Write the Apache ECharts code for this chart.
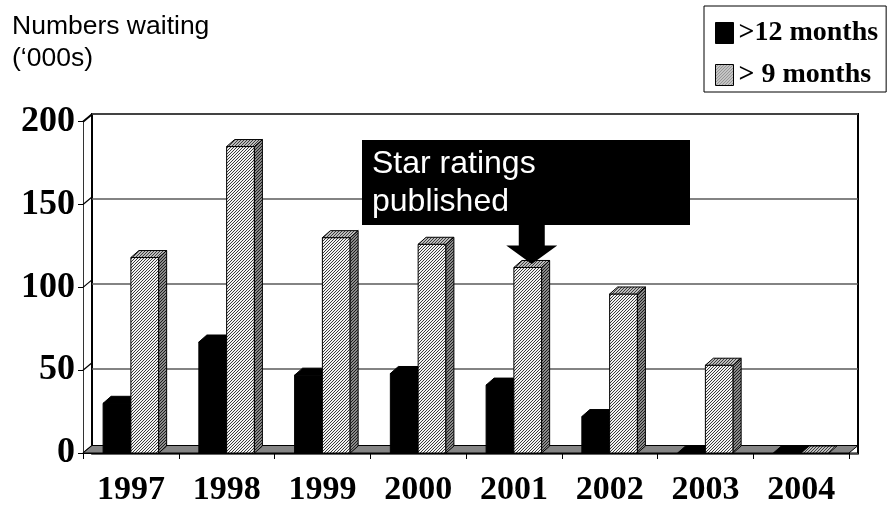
<!DOCTYPE html>
<html>
<head>
<meta charset="utf-8">
<script src="https://cdn.jsdelivr.net/npm/echarts@6/dist/echarts.min.js"></script>
<style>
  html, body { margin: 0; padding: 0; background: #fff; overflow: hidden; }
  #chart { width: 891px; height: 507px; }
</style>
</head>
<body>
<div id="chart"></div>
<script>
// Waiting list figures, thousands of patients
const years = ['1997', '1998', '1999', '2000', '2001', '2002', '2003', '2004'];
const over12Months = [30, 67, 47, 48, 41, 22, 0, 0];
const over9Months = [118, 185, 130, 126, 112, 96, 53, 0];
const yMax = 200;
const yStep = 50;
const annotationYear = '2001';

// depth of the box walls and of the columns (pseudo-3D offset)
const WALL_DX = 9, WALL_DY = 7.5;
const BAR_DX = 8, BAR_DY = 7;
const BAR_FRACTION = 0.29;

function hatch(bg, fg) {
  const c = document.createElement('canvas');
  c.width = 3; c.height = 3;
  const ctx = c.getContext('2d');
  ctx.fillStyle = bg; ctx.fillRect(0, 0, 3, 3);
  ctx.fillStyle = fg;
  for (let x = 0; x < 3; x++) {
    for (let y = 0; y < 3; y++) {
      if ((x + y) % 3 === 2) ctx.fillRect(x, y, 1, 1);
    }
  }
  return { image: c, repeat: 'repeat' };
}

const hatchFront = hatch('#f2f2f2', '#3a3a3a');
const hatchTop = hatch('#bcbcbc', '#3c3c3c');
const hatchSide = hatch('#8a8a8a', '#1e1e1e');

function columnRenderer(side, frontFill, topFill, sideFill) {
  return function (params, api) {
    const i = api.value(0);
    const v = api.value(1);
    const base = api.coord([i, 0]);
    const top = api.coord([i, v]);
    const catW = api.size([1, 0])[0];
    const bw = catW * BAR_FRACTION;
    const x0 = side < 0 ? base[0] - bw : base[0];
    const x1 = x0 + bw;
    const yb = base[1], yt = top[1];
    const stroke = { stroke: '#000', lineWidth: 1 };
    const children = [];
    if (yb - yt > 0.5) {
      children.push({
        type: 'rect',
        shape: { x: x0, y: yt, width: bw, height: yb - yt },
        style: Object.assign({ fill: frontFill }, stroke)
      });
      children.push({
        type: 'polygon',
        shape: { points: [[x1, yt], [x1 + BAR_DX, yt - BAR_DY], [x1 + BAR_DX, yb - BAR_DY], [x1, yb]] },
        style: Object.assign({ fill: sideFill }, stroke)
      });
    }
    children.push({
      type: 'polygon',
      shape: { points: [[x0, yt], [x1, yt], [x1 + BAR_DX, yt - BAR_DY], [x0 + BAR_DX, yt - BAR_DY]] },
      style: Object.assign({ fill: topFill }, stroke)
    });
    return { type: 'group', children: children };
  };
}

const chart = echarts.init(document.getElementById('chart'), null, { renderer: 'canvas' });

const serifBold = { fontFamily: '"Liberation Serif", "Times New Roman", serif', fontWeight: 'bold', color: '#000' };

const option = {
  animation: false,
  backgroundColor: '#fff',
  title: {
    text: 'Numbers waiting\n(\u2018000s)',
    left: 12,
    top: 11,
    padding: 0,
    textStyle: {
      fontFamily: '"Liberation Sans", Arial, sans-serif',
      fontWeight: 'normal',
      fontSize: 26.5,
      lineHeight: 32,
      color: '#000'
    }
  },
  legend: {
    orient: 'vertical',
    left: 704,
    top: 6,
    padding: [12, 8, 2, 11],
    itemWidth: 18,
    itemHeight: 21,
    itemGap: 12,
    borderColor: '#000',
    borderWidth: 1,
    backgroundColor: '#fff',
    selectedMode: false,
    textStyle: Object.assign({ fontSize: 28, lineHeight: 30 }, serifBold),
    data: [
      { name: '>12 months', icon: 'rect', itemStyle: { color: '#000', borderColor: '#000', borderWidth: 1 } },
      { name: '> 9 months', icon: 'rect', itemStyle: { color: hatchFront, borderColor: '#000', borderWidth: 1 } }
    ]
  },
  grid: [
    // front plane: columns, labels and ticks
    { left: 83, right: 42, top: 121.7, bottom: 46, show: false },
    // back wall with gridlines
    { left: 92, right: 33, top: 114, bottom: 53.5, show: true, backgroundColor: '#fff', borderColor: '#000', borderWidth: 2 }
  ],
  xAxis: [
    {
      gridIndex: 0,
      type: 'category',
      data: years,
      boundaryGap: true,
      axisLine: { show: true, lineStyle: { color: '#000', width: 1 } },
      axisTick: { show: true, length: 6, lineStyle: { color: '#000', width: 1 } },
      axisLabel: Object.assign({ fontSize: 34, margin: 20 }, serifBold),
      splitLine: { show: false }
    },
    {
      gridIndex: 1,
      type: 'category',
      data: years,
      show: false
    }
  ],
  yAxis: [
    {
      gridIndex: 0,
      type: 'value',
      min: 0,
      max: yMax,
      interval: yStep,
      axisLine: { show: true, lineStyle: { color: '#333', width: 1 } },
      axisTick: { show: true, length: 5, lineStyle: { color: '#000', width: 1 } },
      axisLabel: Object.assign({ fontSize: 36, margin: 8 }, serifBold),
      splitLine: { show: false }
    },
    {
      gridIndex: 1,
      type: 'value',
      min: 0,
      max: yMax,
      interval: yStep,
      axisLine: { show: false },
      axisTick: { show: false },
      axisLabel: { show: false },
      splitLine: { show: true, lineStyle: { color: '#5a5a5a', width: 1.5 } }
    }
  ],
  series: [
    {
      // slanted gridlines on the left wall
      type: 'custom',
      xAxisIndex: 0,
      yAxisIndex: 0,
      silent: true,
      z: 1,
      data: [0, 1, 2, 3, 4].map(k => [0, k * yStep]),
      renderItem: function (params, api) {
        const p = api.coord([0, api.value(1)]);
        const x = params.coordSys.x;
        const isTop = api.value(1) === yMax;
        return {
          type: 'line',
          shape: { x1: x, y1: p[1], x2: x + WALL_DX, y2: p[1] - WALL_DY },
          style: { stroke: '#000', lineWidth: isTop ? 2 : 1.2 }
        };
      }
    },
    {
      // floor of the box
      type: 'custom',
      xAxisIndex: 0,
      yAxisIndex: 0,
      silent: true,
      z: 2,
      data: [[0, 0]],
      renderItem: function (params, api) {
        const cs = params.coordSys;
        const yb = api.coord([0, 0])[1];
        const xl = cs.x, xr = cs.x + cs.width;
        return {
          type: 'polygon',
          shape: { points: [[xl, yb], [xr, yb], [xr + WALL_DX, yb - WALL_DY], [xl + WALL_DX, yb - WALL_DY]] },
          style: { fill: '#858585', stroke: '#000', lineWidth: 1 }
        };
      }
    },
    {
      name: '>12 months',
      type: 'custom',
      xAxisIndex: 0,
      yAxisIndex: 0,
      z: 3,
      itemStyle: { color: '#000' },
      encode: { x: 0, y: 1 },
      data: over12Months.map((v, i) => [i, v]),
      renderItem: columnRenderer(-1, '#000', '#000', '#000')
    },
    {
      name: '> 9 months',
      type: 'custom',
      xAxisIndex: 0,
      yAxisIndex: 0,
      z: 4,
      itemStyle: { color: '#aaa' },
      encode: { x: 0, y: 1 },
      data: over9Months.map((v, i) => [i, v]),
      renderItem: columnRenderer(1, hatchFront, hatchTop, hatchSide)
    }
  ]
};

chart.setOption(option);

// Callout pointing at the top of the "> 9 months" column for the marked year
const idx = years.indexOf(annotationYear);
const c0 = chart.convertToPixel({ xAxisIndex: 0, yAxisIndex: 0 }, [idx, over9Months[idx]]);
const c1 = chart.convertToPixel({ xAxisIndex: 0, yAxisIndex: 0 }, [idx + 1, over9Months[idx]]);
const catW = c1[0] - c0[0];
const bw = catW * BAR_FRACTION;
const tipX = c0[0] + bw / 2 + BAR_DX / 2;
const tipY = c0[1] - BAR_DY / 2;

const boxLeft = 362, boxTop = 140, boxRight = 690, boxBottom = 225;
const shaftHalf = 13, headHalf = 25.5, headLen = 18.5;
const headY = tipY - headLen;

chart.setOption({
  graphic: [
    {
      type: 'rect',
      z: 100,
      shape: { x: boxLeft, y: boxTop, width: boxRight - boxLeft, height: boxBottom - boxTop },
      style: { fill: '#000' }
    },
    {
      type: 'polygon',
      z: 100,
      shape: {
        points: [
          [tipX - shaftHalf, boxBottom - 1], [tipX + shaftHalf, boxBottom - 1],
          [tipX + shaftHalf, headY], [tipX + headHalf, headY],
          [tipX, tipY], [tipX - headHalf, headY], [tipX - shaftHalf, headY]
        ]
      },
      style: { fill: '#000' }
    },
    {
      type: 'text',
      z: 101,
      x: 372,
      y: 145,
      style: {
        text: 'Star ratings\npublished',
        fill: '#fff',
        font: '32px "Liberation Sans", Arial, sans-serif',
        lineHeight: 38,
        verticalAlign: 'top',
        align: 'left'
      }
    }
  ]
});
</script>
</body>
</html>
